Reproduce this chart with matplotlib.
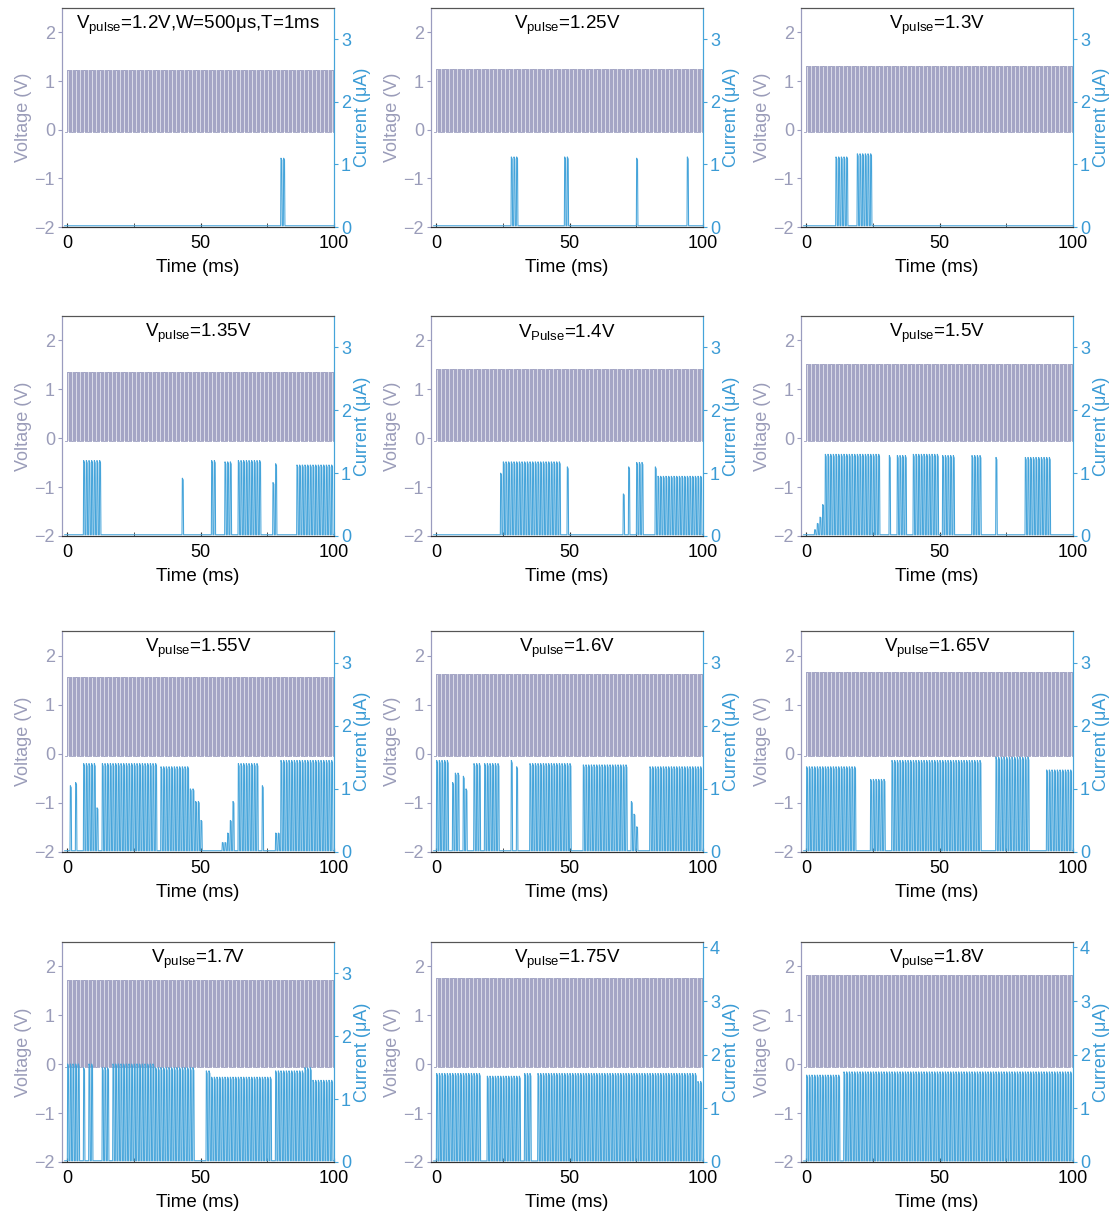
import numpy as np
import matplotlib
matplotlib.use("Agg")
import matplotlib.pyplot as plt

plt.rcParams['font.family'] = ['Liberation Sans', 'DejaVu Sans']
plt.rcParams['mathtext.fontset'] = 'custom'
plt.rcParams['mathtext.rm'] = 'Liberation Sans'
plt.rcParams['mathtext.it'] = 'Liberation Sans:italic'
plt.rcParams['axes.unicode_minus'] = True

# ---------------- data ----------------
titles = [r"V$_{\mathrm{pulse}}$=1.2V,W=500μs,T=1ms", r"V$_{\mathrm{pulse}}$=1.25V",
          r"V$_{\mathrm{pulse}}$=1.3V", r"V$_{\mathrm{pulse}}$=1.35V",
          r"V$_{\mathrm{Pulse}}$=1.4V", r"V$_{\mathrm{pulse}}$=1.5V",
          r"V$_{\mathrm{pulse}}$=1.55V", r"V$_{\mathrm{pulse}}$=1.6V",
          r"V$_{\mathrm{pulse}}$=1.65V", r"V$_{\mathrm{pulse}}$=1.7V",
          r"V$_{\mathrm{pulse}}$=1.75V", r"V$_{\mathrm{pulse}}$=1.8V"]

# measured pulse amplitude (V) of each panel
pulse_high = [1.22, 1.25, 1.31, 1.36, 1.42, 1.51, 1.57, 1.63, 1.67, 1.72, 1.77, 1.82]
pulse_low = -0.05
n_pulses = 100          # T = 1 ms, 100 ms record
period_ms = 1.0
width_ms = 0.5

# current firing: (first pulse, last pulse, peak current in uA)
seg_120 = [(80, 81, 1.1)]
seg_125 = [(28, 30, 1.12), (48, 49, 1.12), (75, 75, 1.1), (94, 94, 1.12)]
seg_130 = [(11, 15, 1.12), (19, 24, 1.17)]
seg_135 = [(6, 12, 1.2), (43, 43, 0.92), (54, 55, 1.2), (59, 61, 1.18), (64, 72, 1.2),
           (77, 77, 0.85), (78, 78, 1.15), (86, 99, 1.13)]
seg_140 = [(24, 24, 1.0), (25, 46, 1.18), (49, 49, 1.1), (70, 70, 0.67), (72, 72, 1.1),
           (75, 77, 1.17), (82, 82, 1.1), (83, 99, 0.95)]
seg_150 = [(3, 3, 0.1), (4, 4, 0.2), (5, 5, 0.3), (6, 6, 0.5), (7, 27, 1.3), (31, 31, 1.28),
           (34, 37, 1.28), (40, 49, 1.3), (51, 55, 1.28), (62, 65, 1.28), (71, 71, 1.25),
           (82, 91, 1.25)]
seg_155 = [(1, 1, 1.05), (3, 3, 1.1), (6, 10, 1.4), (11, 11, 0.7), (13, 33, 1.4),
           (35, 45, 1.35), (46, 47, 1.0), (48, 49, 0.8), (50, 50, 0.5), (58, 59, 0.15),
           (60, 60, 0.3), (61, 61, 0.5), (62, 62, 0.8), (64, 71, 1.4), (73, 73, 1.05),
           (78, 79, 0.3), (80, 99, 1.45)]
seg_160 = [(0, 4, 1.45), (6, 6, 1.1), (7, 8, 1.25), (10, 10, 1.2), (11, 11, 1.0),
           (14, 16, 1.4), (18, 23, 1.4), (28, 28, 1.45), (30, 30, 1.35), (35, 50, 1.4),
           (55, 71, 1.38), (73, 73, 0.8), (74, 74, 0.6), (75, 75, 0.4), (80, 99, 1.35)]
seg_165 = [(0, 18, 1.35), (24, 29, 1.15), (32, 40, 1.45), (41, 65, 1.45), (71, 83, 1.5),
           (90, 99, 1.3)]
seg_170 = [(0, 4, 1.56), (6, 6, 1.5), (8, 9, 1.56), (13, 15, 1.5), (17, 32, 1.56),
           (33, 36, 1.5), (37, 47, 1.5), (52, 53, 1.45), (54, 76, 1.35), (78, 88, 1.45),
           (89, 91, 1.5), (92, 99, 1.3)]
seg_175 = [(0, 16, 1.65), (19, 31, 1.6), (33, 35, 1.65), (38, 97, 1.65), (98, 99, 1.5)]
seg_180 = [(0, 12, 1.62), (14, 99, 1.68)]

segments = [seg_120, seg_125, seg_130, seg_135, seg_140, seg_150,
            seg_155, seg_160, seg_165, seg_170, seg_175, seg_180]

current_top = [3.5, 3.5, 3.5, 3.5, 3.5, 3.5, 3.5, 3.5, 3.5, 3.5, 4.1, 4.1]
current_ticks = [[0, 1, 2, 3]] * 10 + [[0, 1, 2, 3, 4]] * 2

# ---------------- style ----------------
V_COL = '#9a9cbf'
V_FILL = '#b2b4d0'
V_TXT = '#9a9cb9'
I_COL = '#45a4da'
I_TXT = '#3a9bd5'

W, H = 1118, 1220
fig = plt.figure(figsize=(W / 100, H / 100), dpi=100)

col_left = [62, 431, 801]
ax_w = 272
row_top = [8, 316, 631, 942]
row_bot = [227, 536, 852, 1162]


def voltage_trace(vh):
    t = [-1.0, 0.0]
    v = [pulse_low, pulse_low]
    for k in range(n_pulses):
        t0 = k * period_ms
        t += [t0, t0, t0 + width_ms, t0 + width_ms]
        v += [pulse_low, vh, vh, pulse_low]
    t.append(n_pulses * period_ms)
    v.append(pulse_low)
    return np.array(t), np.array(v)


def current_trace(segs):
    amp = np.zeros(n_pulses)
    for a, b, c in segs:
        amp[a:b + 1] = c
    t = [-1.0]
    i = [0.02]
    for k in range(n_pulses):
        t0 = k * period_ms
        if amp[k] > 0:
            t += [t0, t0 + 0.12, t0 + 0.45, t0 + 0.6]
            i += [0.02, amp[k], amp[k] * 0.97, 0.02]
        else:
            t += [t0]
            i += [0.02]
    t.append(100.0)
    i.append(0.02)
    return np.array(t), np.array(i)


for idx in range(12):
    r, c = divmod(idx, 3)
    left = col_left[c] / W
    bottom = 1 - row_bot[r] / H
    height = (row_bot[r] - row_top[r]) / H
    ax = fig.add_axes([left, bottom, ax_w / W, height])
    ax2 = ax.twinx()

    tv, vv = voltage_trace(pulse_high[idx])
    ax.fill_between([0, 100], pulse_low, pulse_high[idx], color=V_FILL, lw=0, alpha=0.5)
    ax.plot(tv, vv, color=V_COL, lw=0.6)
    ax.set_xlim(-2, 100)
    ax.set_ylim(-2, 2.5)
    ax.set_yticks([-2, -1, 0, 1, 2])
    ax.set_xticks([0, 50, 100])
    ax.set_xticks([25, 75], minor=True)

    ti, ii = current_trace(segments[idx])
    ax2.plot(ti, ii, color=I_COL, lw=0.75)
    ax2.set_ylim(0, current_top[idx])
    ax2.set_yticks(current_ticks[idx])

    ax.tick_params(axis='x', which='both', direction='in', length=3, labelsize=13,
                   colors='#333333', labelcolor='black', pad=6)
    ax.tick_params(axis='y', direction='out', length=3, labelsize=13,
                   colors=V_COL, labelcolor=V_TXT, pad=2)
    ax2.tick_params(axis='y', direction='out', length=3, labelsize=13,
                    colors=I_COL, labelcolor=I_TXT, pad=2)

    ax.spines['left'].set_color(V_COL)
    ax2.spines['left'].set_color(V_COL)
    ax2.spines['right'].set_color(I_COL)
    ax.spines['right'].set_color(I_COL)
    ax.spines['top'].set_color('#555555')
    ax2.spines['top'].set_color('#555555')
    ax.spines['bottom'].set_color('#333333')
    ax2.spines['bottom'].set_color('#333333')
    for a in (ax, ax2):
        for s in a.spines.values():
            s.set_linewidth(0.8)

    ax.set_ylabel('Voltage (V)', color=V_TXT, fontsize=13, labelpad=2)
    ax2.set_ylabel('Current (μA)', color=I_TXT, fontsize=13, labelpad=2)
    ax.set_xlabel('Time (ms)', fontsize=13.5, labelpad=5)
    ax.text(0.5, 0.975, titles[idx], transform=ax.transAxes, ha='center', va='top',
            fontsize=13.5, color='black', zorder=10)

fig.savefig('out.png', dpi=100)
